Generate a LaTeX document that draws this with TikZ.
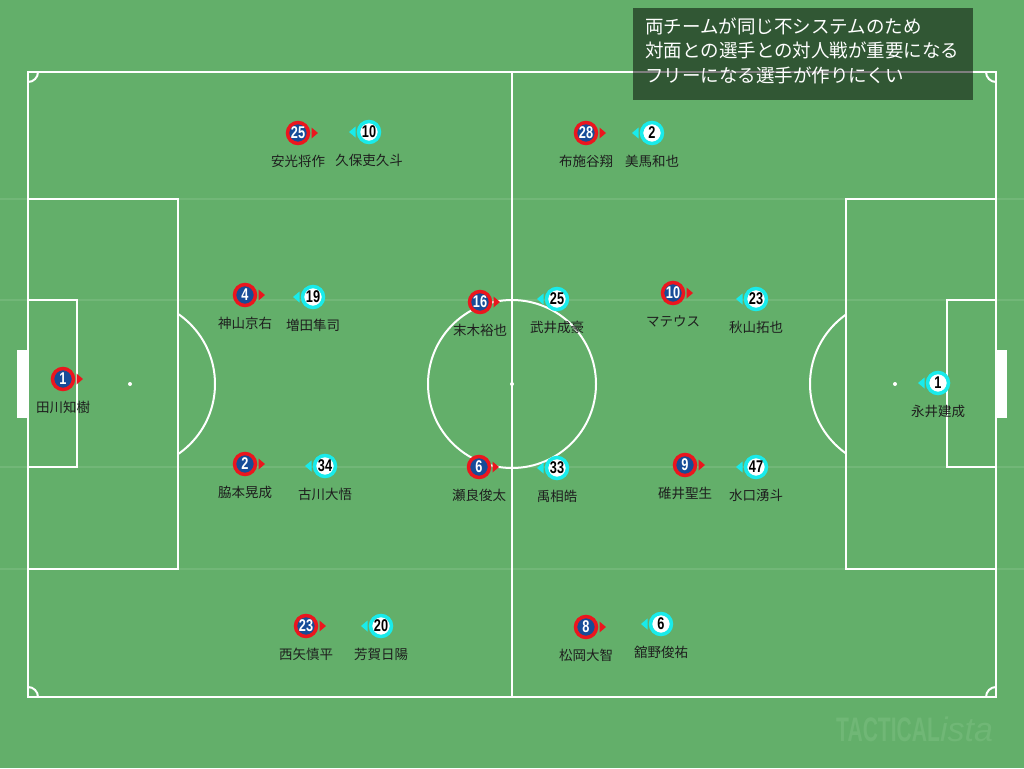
\documentclass[tikz,border=0pt]{standalone}
\usepackage{fontspec}
\newfontfamily\jp{Noto Sans CJK JP}
\newfontfamily\numf{Liberation Sans}
\usetikzlibrary{calc}
\definecolor{pitch}{RGB}{99,175,106}
\definecolor{stripe}{RGB}{114,183,120}
\definecolor{rd}{RGB}{235,22,30}
\definecolor{bl}{RGB}{22,76,152}
\definecolor{cy}{RGB}{25,235,235}
\definecolor{wm}{RGB}{112,183,118}
\definecolor{nm}{RGB}{30,30,30}
\tikzset{
  pline/.style={draw=white,line width=2pt},
  redc/.style={circle,draw=rd,fill=bl,line width=3.5pt,minimum size=21pt,inner sep=0pt,text=white,
    font=\fontsize{17}{17}\numf\bfseries},
  cyc/.style={circle,draw=cy,fill=white,line width=3.5pt,minimum size=21pt,inner sep=0pt,text=black,
    font=\fontsize{17}{17}\numf\bfseries},
  lbl/.style={text=nm,font=\fontsize{13.5}{14}\jp,inner sep=0pt},
  boxtxt/.style={text=white,font=\fontsize{18.5}{24}\jp,anchor=base west,inner sep=0pt}
}
\newcommand\rp[5]{%
  \node[redc] (#1) at (#2,#3) {\scalebox{0.75}[1]{#4}};
  \fill[rd] (#2+13.5,#3-5.5) -- (#2+20,#3) -- (#2+13.5,#3+5.5) -- cycle;
  \node[lbl] (#1l) at (#2,#3+28) {#5};
}
\newcommand\cp[5]{%
  \node[cyc] (#1) at (#2,#3) {\scalebox{0.75}[1]{#4}};
  \fill[cy] (#2-13.5,#3-5.5) -- (#2-20,#3) -- (#2-13.5,#3+5.5) -- cycle;
  \node[lbl] (#1l) at (#2,#3+28) {#5};
}
\begin{document}
\begin{tikzpicture}[x=1pt,y=-1pt]
\fill[pitch] (0,0) rectangle (1024,768);
\useasboundingbox (0,0) rectangle (1024,768);
% stripes
\foreach \yy in {199,300,467,569}{\draw[stripe,line width=2pt] (0,\yy) -- (1024,\yy);}
% goals
\fill[white] (17,350) rectangle (28,418);
\fill[white] (996,350) rectangle (1007,418);
% pitch lines
\draw[pline] (28,72) rectangle (996,697);
\draw[pline] (512,72) -- (512,697);
\draw[pline] (512,384) circle (84);
\fill[white] (512,384) circle (2);
\draw[pline] (28,199) rectangle (178,569);
\draw[pline] (28,300) rectangle (77,467);
\draw[pline] (996,199) rectangle (846,569);
\draw[pline] (996,300) rectangle (947,467);
\fill[white] (130,384) circle (2);
\fill[white] (895,384) circle (2);
\begin{scope}
\clip (178,0) rectangle (300,768);
\draw[pline] (130,384) circle (85);
\end{scope}
\begin{scope}
\clip (846,0) rectangle (700,768);
\draw[pline] (895,384) circle (85);
\end{scope}
\begin{scope}
\clip (28,72) rectangle (996,697);
\foreach \cx/\cy in {28/72,996/72,28/697,996/697}{\draw[pline] (\cx,\cy) circle (10);}
\end{scope}
% players
\rp{r1}{63}{379}{1}{田川知樹}
\rp{r25}{298}{133}{25}{安光将作}
\cp{c10}{369}{132}{10}{久保吏久斗}
\rp{r28}{586}{133}{28}{布施谷翔}
\cp{c2}{652}{133}{2}{美馬和也}
\rp{r4}{245}{295}{4}{神山京右}
\cp{c19}{313}{297}{19}{増田隼司}
\rp{r16}{480}{302}{16}{末木裕也}
\cp{c25}{557}{299}{25}{武井成豪}
\rp{r10}{673}{293}{10}{マテウス}
\cp{c23}{756}{299}{23}{秋山拓也}
\cp{c1}{938}{383}{1}{永井建成}
\rp{r2}{245}{464}{2}{脇本晃成}
\cp{c34}{325}{466}{34}{古川大悟}
\rp{r6}{479}{467}{6}{瀬良俊太}
\cp{c33}{557}{468}{33}{禹相皓}
\rp{r9}{685}{465}{9}{碓井聖生}
\cp{c47}{756}{467}{47}{水口湧斗}
\rp{r23}{306}{626}{23}{西矢慎平}
\cp{c20}{381}{626}{20}{芳賀日陽}
\rp{r8}{586}{627}{8}{松岡大智}
\cp{c6}{661}{624}{6}{舘野俊祐}
% text box
\fill[black,opacity=0.5] (633,8) rectangle (973,100);
\node[boxtxt] (t1) at (645,34) {両チームが同じ不システムのため};
\node[boxtxt] (t2) at (645,58) {対面との選手との対人戦が重要になる};
\node[boxtxt] (t3) at (645,82) {フリーになる選手が作りにくい};
% watermark
\node[anchor=base west,inner sep=0pt,text=wm] (wm) at (836,741)
  {\scalebox{0.62}[1]{\fontsize{34}{34}\numf\bfseries TACTICAL}\fontsize{34}{34}\numf\itshape ista};
\end{tikzpicture}
\end{document}
